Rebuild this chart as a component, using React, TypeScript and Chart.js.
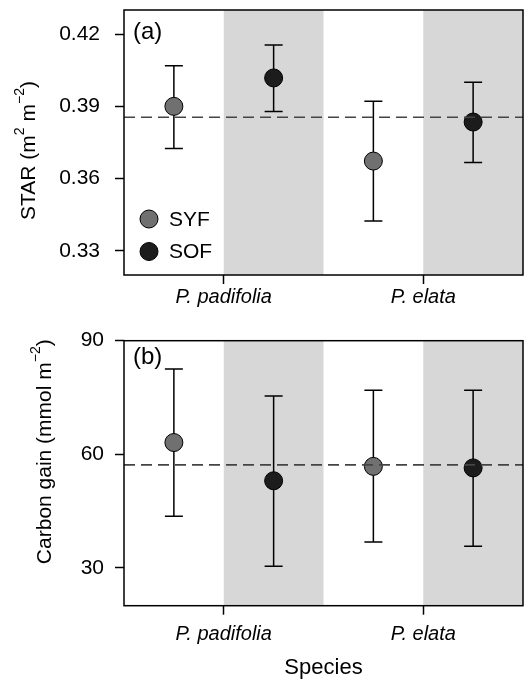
import React, { useEffect, useRef } from "react";
import { Chart, registerables } from "chart.js";
Chart.register(...registerables);

const FONT = "'Liberation Sans', Arial, Helvetica, sans-serif";

// categories
const groups = ["SYF", "SOF"];
const groupColors = ["#707070", "#1c1c1c"];
const species = ["P. padifolia", "P. elata"];
const speciesTickValues = [1, 3];
// SYF pad, SOF pad, SYF elata, SOF elata
const pointX = [0.5, 1.5, 2.5, 3.5];
const pointGroup = [0, 1, 0, 1];
const shadedBands = [
  [1, 2],
  [3, 4],
];

// panel (a) STAR
const starMean = [0.39, 0.4018, 0.3673, 0.3835];
const starLow = [0.3725, 0.3879, 0.3424, 0.3667];
const starHigh = [0.4069, 0.4155, 0.3921, 0.4];
const starRef = 0.3855;
const starTicks = [0.33, 0.36, 0.39, 0.42];

// panel (b) Carbon gain
const carbonMean = [63.1, 53.0, 56.8, 56.4];
const carbonLow = [43.6, 30.4, 36.8, 35.7];
const carbonHigh = [82.5, 75.4, 76.9, 76.9];
const carbonRef = 57.2;
const carbonTicks = [30, 60, 90];

type Seg = { t: string; sup?: boolean };

function drawRich(ctx: CanvasRenderingContext2D, segs: Seg[], cx: number, cy: number, size: number) {
  const supSize = Math.round(size * 0.66);
  ctx.save();
  ctx.translate(cx, cy);
  ctx.rotate(-Math.PI / 2);
  ctx.textBaseline = "middle";
  ctx.textAlign = "left";
  let total = 0;
  const widths: number[] = [];
  segs.forEach((s) => {
    ctx.font = `${s.sup ? supSize : size}px ${FONT}`;
    const w = ctx.measureText(s.t).width;
    widths.push(w);
    total += w;
  });
  let x = -total / 2;
  segs.forEach((s, i) => {
    ctx.font = `${s.sup ? supSize : size}px ${FONT}`;
    ctx.fillStyle = "#000";
    ctx.fillText(s.t, x, s.sup ? -size * 0.4 : 0);
    x += widths[i];
  });
  ctx.restore();
}

type PanelParams = {
  mean: number[];
  low: number[];
  high: number[];
  ref: number;
  yTicks: number[];
  yMin: number;
  yMax: number;
  decimals: number;
  topPad: number;
  xAxisHeight: number;
  xTickPad: number;
  yTickPad: number;
  label: string;
  labelDy: number;
  title: Seg[];
  titleX: number;
  titleDy: number;
  legend: boolean;
  xTitle: string | null;
};

function makeConfig(p: PanelParams): any {
  const panelPlugin = {
    id: "panelPlugin",
    beforeDraw(chart: any) {
      const { ctx, chartArea } = chart;
      const xs = chart.scales.x;
      ctx.save();
      ctx.fillStyle = "#d7d7d7";
      shadedBands.forEach(([a, b]) => {
        const x1 = xs.getPixelForValue(a);
        const x2 = xs.getPixelForValue(b);
        ctx.fillRect(x1, chartArea.top, x2 - x1, chartArea.bottom - chartArea.top);
      });
      ctx.restore();
    },
    beforeDatasetsDraw(chart: any) {
      const { ctx } = chart;
      const xs = chart.scales.x;
      const ys = chart.scales.y;
      ctx.save();
      ctx.strokeStyle = "#000";
      ctx.lineWidth = 1.5;
      pointX.forEach((xv, i) => {
        const px = xs.getPixelForValue(xv);
        const yl = ys.getPixelForValue(p.low[i]);
        const yh = ys.getPixelForValue(p.high[i]);
        ctx.beginPath();
        ctx.moveTo(px, yl);
        ctx.lineTo(px, yh);
        ctx.moveTo(px - 9, yl);
        ctx.lineTo(px + 9, yl);
        ctx.moveTo(px - 9, yh);
        ctx.lineTo(px + 9, yh);
        ctx.stroke();
      });
      ctx.restore();
    },
    afterDraw(chart: any) {
      const { ctx, chartArea } = chart;
      ctx.save();
      ctx.strokeStyle = "#000";
      ctx.lineWidth = 1.5;
      ctx.strokeRect(chartArea.left, chartArea.top, chartArea.right - chartArea.left, chartArea.bottom - chartArea.top);
      ctx.fillStyle = "#000";
      ctx.font = `24px ${FONT}`;
      ctx.textBaseline = "middle";
      ctx.textAlign = "left";
      ctx.fillText(p.label, chartArea.left + 9, chartArea.top + p.labelDy);
      if (p.legend) {
        const rows = [chartArea.bottom - 56, chartArea.bottom - 23.5];
        groups.forEach((g, i) => {
          ctx.beginPath();
          ctx.arc(chartArea.left + 25, rows[i], 9, 0, Math.PI * 2);
          ctx.fillStyle = groupColors[i];
          ctx.fill();
          ctx.lineWidth = 1;
          ctx.strokeStyle = "#000";
          ctx.stroke();
          ctx.fillStyle = "#000";
          ctx.font = `21px ${FONT}`;
          ctx.fillText(g, chartArea.left + 45, rows[i] + 1);
        });
      }
      const cy = (chartArea.top + chartArea.bottom) / 2 + p.titleDy;
      drawRich(ctx, p.title, p.titleX, cy, 21);
      ctx.restore();
    },
  };

  return {
    type: "scatter",
    data: {
      datasets: [
        {
          type: "line",
          data: [
            { x: 0, y: p.ref },
            { x: 4, y: p.ref },
          ],
          borderColor: "#444",
          borderWidth: 1.6,
          borderDash: [11, 6],
          pointRadius: 0,
          fill: false,
        },
        {
          type: "scatter",
          data: pointX.map((x, i) => ({ x, y: p.mean[i] })),
          pointRadius: 9,
          pointHoverRadius: 9,
          pointBackgroundColor: pointGroup.map((g) => groupColors[g]),
          pointBorderColor: "#000",
          pointBorderWidth: 1,
        },
      ],
    },
    options: {
      responsive: false,
      animation: false,
      events: [],
      layout: { autoPadding: false, padding: { left: 0, right: 1, top: p.topPad, bottom: 0 } },
      plugins: { legend: { display: false }, tooltip: { enabled: false } },
      scales: {
        x: {
          type: "linear",
          min: 0,
          max: 4,
          afterBuildTicks: (axis: any) => {
            axis.ticks = speciesTickValues.map((v) => ({ value: v }));
          },
          afterFit: (axis: any) => {
            axis.height = p.xAxisHeight;
            axis.paddingLeft = 0;
            axis.paddingRight = 0;
          },
          ticks: {
            autoSkip: false,
            maxRotation: 0,
            padding: p.xTickPad,
            color: "#000",
            font: { family: FONT, size: 20, style: "italic" },
            callback: (v: number) => species[speciesTickValues.indexOf(v)],
          },
          grid: { drawOnChartArea: false, drawTicks: true, tickLength: 9, tickColor: "#000", tickWidth: 1.5 },
          border: { display: false },
          title: p.xTitle
            ? {
                display: true,
                text: p.xTitle,
                color: "#000",
                font: { family: FONT, size: 22, lineHeight: 1 },
                padding: { top: 0, bottom: 0 },
              }
            : { display: false },
        },
        y: {
          type: "linear",
          min: p.yMin,
          max: p.yMax,
          afterBuildTicks: (axis: any) => {
            axis.ticks = p.yTicks.map((v) => ({ value: v }));
          },
          afterFit: (axis: any) => {
            axis.width = 124;
            axis.paddingTop = 0;
            axis.paddingBottom = 0;
          },
          ticks: {
            padding: p.yTickPad,
            color: "#000",
            font: { family: FONT, size: 21 },
            callback: (v: number) => v.toFixed(p.decimals),
          },
          grid: { drawOnChartArea: false, drawTicks: true, tickLength: 9, tickColor: "#000", tickWidth: 1.5 },
          border: { display: false },
        },
      },
    },
    plugins: [panelPlugin],
  };
}

const panelA: PanelParams = {
  mean: starMean,
  low: starLow,
  high: starHigh,
  ref: starRef,
  yTicks: starTicks,
  yMin: 0.32,
  yMax: 0.43,
  decimals: 2,
  topPad: 10,
  xAxisHeight: 40,
  xTickPad: 1,
  yTickPad: 15,
  label: "(a)",
  labelDy: 22,
  title: [{ t: "STAR (m" }, { t: "2", sup: true }, { t: " m" }, { t: "−2", sup: true }, { t: ")" }],
  titleX: 29,
  titleDy: 8,
  legend: true,
  xTitle: null,
};

const panelB: PanelParams = {
  mean: carbonMean,
  low: carbonLow,
  high: carbonHigh,
  ref: carbonRef,
  yTicks: carbonTicks,
  yMin: 20,
  yMax: 90,
  decimals: 0,
  topPad: 25.7,
  xAxisHeight: 73.3,
  xTickPad: 8,
  yTickPad: 11,
  label: "(b)",
  labelDy: 16.6,
  title: [{ t: "Carbon gain (mmol m" }, { t: "−2", sup: true }, { t: ")" }],
  titleX: 45,
  titleDy: -21.5,
  legend: false,
  xTitle: "Species",
};

function Panel({ params, top, height }: { params: PanelParams; top: number; height: number }) {
  const ref = useRef<HTMLCanvasElement | null>(null);
  useEffect(() => {
    if (!ref.current) return;
    const chart = new Chart(ref.current, makeConfig(params));
    return () => chart.destroy();
  }, [params]);
  return (
    <canvas
      ref={ref}
      width={524}
      height={height}
      style={{ position: "absolute", left: 0, top, width: 524, height }}
    />
  );
}

export default function App() {
  return (
    <div style={{ position: "absolute", left: 0, top: 0, width: 524, height: 679, background: "#fff" }}>
      <Panel params={panelA} top={0} height={315} />
      <Panel params={panelB} top={315} height={364} />
    </div>
  );
}
